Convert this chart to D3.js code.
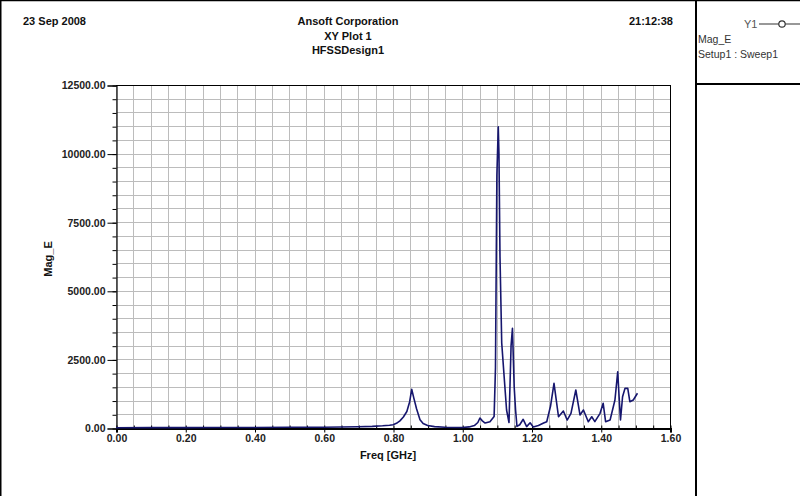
<!DOCTYPE html>
<html><head><meta charset="utf-8">
<script src="https://cdn.jsdelivr.net/npm/d3@7/dist/d3.min.js"></script>
<style>body{margin:0;background:#fff}svg{display:block}text{font-family:"Liberation Sans",Arial,sans-serif}</style>
</head><body>
<svg id="c" width="800" height="504"></svg>
<script>
// ---- data ----
const freqGHz = [0.00,0.10,0.20,0.30,0.40,0.50,0.60,0.65,0.70,0.74,0.77,0.79,0.80,0.81,0.82,0.83,0.84,0.848,0.854,0.860,0.868,0.878,0.887,0.90,0.92,0.95,0.98,1.00,1.02,1.035,1.045,1.051,1.058,1.066,1.080,1.092,1.096,1.100,1.104,1.106,1.109,1.114,1.121,1.128,1.135,1.141,1.145,1.150,1.154,1.158,1.166,1.176,1.186,1.196,1.205,1.220,1.235,1.244,1.255,1.265,1.278,1.292,1.303,1.314,1.328,1.340,1.350,1.364,1.374,1.383,1.398,1.407,1.414,1.427,1.441,1.449,1.453,1.457,1.463,1.470,1.478,1.484,1.494,1.506];
const magE    = [10,12,15,18,20,25,30,35,45,60,80,100,120,170,260,400,600,950,1410,1100,700,300,160,90,50,30,20,20,40,90,200,364,260,180,230,420,2200,9200,10980,10000,6240,3100,1870,656,200,3000,3630,1500,656,60,120,317,50,190,40,90,180,230,800,1630,410,620,290,535,1385,475,656,230,410,230,535,900,230,290,1020,2050,1140,290,1140,1445,1445,960,1020,1265];
const xTicks = [0.00,0.20,0.40,0.60,0.80,1.00,1.20,1.40,1.60];
const yTicks = [0,2500,5000,7500,10000,12500];
const headerLeft = "23 Sep 2008", headerRight = "21:12:38";
const titleLines = ["Ansoft Corporation","XY Plot 1","HFSSDesign1"];
const legendLines = ["Mag_E","Setup1 : Sweep1"];

const svg = d3.select("#c");
const L=116,R=670,T=85,B=428;
const x = d3.scaleLinear().domain([0,1.6]).range([L,R]);
const y = d3.scaleLinear().domain([0,12500]).range([B,T]);

// frame
svg.append("line").attr("x1",0.5).attr("x2",0.5).attr("y1",0).attr("y2",496).attr("stroke","#000").attr("stroke-width",2);
svg.append("line").attr("x1",0).attr("x2",800).attr("y1",0.5).attr("y2",0.5).attr("stroke","#000").attr("stroke-width",1.5);
svg.append("line").attr("x1",696).attr("x2",696).attr("y1",0).attr("y2",496).attr("stroke","#000").attr("stroke-width",2);
svg.append("line").attr("x1",696).attr("x2",800).attr("y1",84).attr("y2",84).attr("stroke","#000").attr("stroke-width",2);

// grid
const g = svg.append("g");
const xMinor = d3.range(0,33).map(i=>i*0.05);
const yMinor = d3.range(0,26).map(i=>i*500);
g.selectAll(".vg").data(xMinor).join("line").attr("x1",d=>Math.round(x(d))+0.5).attr("x2",d=>Math.round(x(d))+0.5).attr("y1",T).attr("y2",B).attr("stroke","#bcbcbc").attr("stroke-width",1);
g.selectAll(".hg").data(yMinor).join("line").attr("y1",d=>Math.round(y(d))+0.5).attr("y2",d=>Math.round(y(d))+0.5).attr("x1",L).attr("x2",R).attr("stroke","#bcbcbc").attr("stroke-width",1);
// plot border top/right
svg.append("line").attr("x1",L).attr("x2",R+0.5).attr("y1",T+0.5).attr("y2",T+0.5).attr("stroke","#000");
svg.append("line").attr("x1",R+0.5).attr("x2",R+0.5).attr("y1",T).attr("y2",B).attr("stroke","#000");

// axes
const yMinorAx = d3.axisLeft(y).tickValues(yMinor).tickSize(4).tickFormat("");
svg.append("g").attr("transform",`translate(${L+0.5},0.5)`).call(yMinorAx).call(a=>a.select(".domain").remove()).selectAll("line").attr("stroke","#000");
const yAx = d3.axisLeft(y).tickValues(yTicks).tickSize(9).tickPadding(2).tickFormat(d3.format(".2f"));
const ya = svg.append("g").attr("transform",`translate(${L+0.5},0.5)`).call(yAx);
ya.select(".domain").attr("stroke","#000").attr("stroke-width",1.2);
ya.selectAll("text").attr("font-size","10.5px").attr("font-weight","bold").attr("fill","#222").style("font-family","'Liberation Sans',Arial,sans-serif");

const xMinorAx = d3.axisTop(x).tickValues(xMinor).tickSize(3).tickFormat("");
svg.append("g").attr("transform",`translate(0.5,${B+0.5})`).call(xMinorAx).call(a=>a.select(".domain").remove()).selectAll("line").attr("stroke","#000");
const xAx = d3.axisBottom(x).tickValues(xTicks).tickSize(4).tickPadding(2).tickFormat(d3.format(".2f"));
const xa = svg.append("g").attr("transform",`translate(0.5,${B+0.5})`).call(xAx);
xa.select(".domain").attr("stroke","#000").attr("stroke-width",2);
xa.selectAll("text").attr("font-size","10.5px").attr("font-weight","bold").attr("fill","#222").style("font-family","'Liberation Sans',Arial,sans-serif");

// data line
const line = d3.line().x((d,i)=>x(freqGHz[i])).y(d=>y(d));
svg.append("path").datum(magE).attr("d",line).attr("fill","none").attr("stroke","#16166e").attr("stroke-width",1.6).attr("stroke-linejoin","round");

// texts
const t = (s,xx,yy,opt={})=>svg.append("text").text(s).attr("x",xx).attr("y",yy)
  .attr("font-size",opt.size||"11px").attr("font-weight",opt.w||"bold").attr("fill",opt.c||"#111")
  .attr("text-anchor",opt.a||"start");
t(headerLeft,23,25);
t(headerRight,673,25,{a:"end"});
titleLines.forEach((s,i)=>t(s,348,25+i*14.5,{a:"middle"}));
t("Freq [GHz]",388,459,{a:"middle"});
svg.append("text").text("Mag_E").attr("transform","translate(52,259) rotate(-90)").attr("text-anchor","middle")
  .attr("font-size","11px").attr("font-weight","bold").attr("fill","#111");

// legend
t("Y1",744,28,{w:"normal",c:"#555",size:"11px"});
svg.append("line").attr("x1",759).attr("x2",800).attr("y1",24).attr("y2",24).attr("stroke","#333").attr("stroke-width",1.2);
svg.append("circle").attr("cx",782).attr("cy",24).attr("r",3.2).attr("fill","#fff").attr("stroke","#333").attr("stroke-width",1.2);
legendLines.forEach((s,i)=>t(s,698,43+i*14.5,{w:"normal",c:"#333",size:"10.5px"}));
</script>
</body></html>
